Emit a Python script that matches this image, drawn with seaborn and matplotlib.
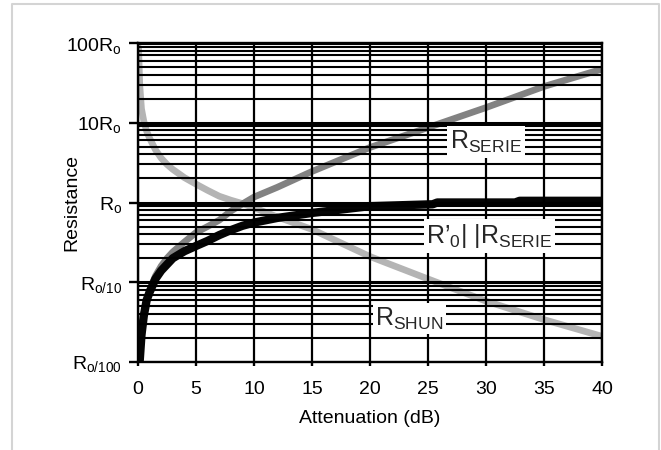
import numpy as np
import pandas as pd
import matplotlib.pyplot as plt
import seaborn as sns
from matplotlib.ticker import LogLocator, FixedLocator, FixedFormatter, NullFormatter
from matplotlib.lines import Line2D

# values: attenuation (dB) vs resistance in units of Ro
shunt_db = [0.05, 0.15, 0.3, 0.5, 0.75, 1, 1.5, 2, 2.5, 3, 4, 5, 6, 7, 8, 9, 10, 12, 15, 20, 25, 30, 35, 40]
r_shunt = [88, 30, 15, 10.5, 7.8, 6.4, 4.6, 3.6, 3.0, 2.6, 2.05, 1.7, 1.42, 1.2, 1.07, 0.97, 0.86, 0.66, 0.46, 0.21, 0.11, 0.058, 0.034, 0.021]

serie_db = [0.3, 0.5, 1, 1.5, 2, 2.5, 3, 4, 5, 6, 7, 8, 9, 10, 12, 15, 20, 25, 30, 35, 40]
r_serie = [0.02, 0.04, 0.08, 0.12, 0.16, 0.2, 0.24, 0.32, 0.42, 0.5, 0.6, 0.78, 0.96, 1.17, 1.55, 2.45, 4.9, 8.7, 15.5, 28.5, 47]

par_db = [0.15, 0.3, 0.5, 0.75, 1, 1.5, 2, 3, 4, 5, 6, 7, 8, 9, 10, 12, 15, 20, 25.4, 25.8, 32.5, 32.9, 40]
r_par = [0.0105, 0.022, 0.038, 0.06, 0.075, 0.11, 0.14, 0.2, 0.245, 0.285, 0.33, 0.39, 0.45, 0.51, 0.56, 0.64, 0.74, 0.9, 0.95, 1.0, 1.0, 1.05, 1.05]

ytick_vals = [0.01, 0.1, 1, 10, 100]
ytick_labels = ['R$_{o/100}$', 'R$_{o/10}$', 'R$_o$', '10R$_o$', '100R$_o$']
xtick_vals = [0, 5, 10, 15, 20, 25, 30, 35, 40]

sns.set_theme(style="white")
plt.rcParams['font.family'] = ['Liberation Sans', 'DejaVu Sans']
plt.rcParams['mathtext.fontset'] = 'custom'
plt.rcParams['mathtext.rm'] = 'Liberation Sans'
plt.rcParams['mathtext.it'] = 'Liberation Sans'
plt.rcParams['mathtext.bf'] = 'Liberation Sans:bold'
plt.rcParams['mathtext.default'] = 'regular'

fig = plt.figure(figsize=(6.61, 4.5), dpi=100)
ax = fig.add_axes([138 / 661, 1 - 362 / 450, 464 / 661, 319 / 450])

sns.lineplot(x=shunt_db, y=r_shunt, ax=ax, color="#b4b4b4", linewidth=4.8, estimator=None, sort=False)
sns.lineplot(x=serie_db, y=r_serie, ax=ax, color="#828282", linewidth=4.8, estimator=None, sort=False)
sns.lineplot(x=par_db, y=r_par, ax=ax, color="#050505", linewidth=6, estimator=None, sort=False)

ax.set_yscale("log")
ax.set_xlim(0, 40)
ax.set_ylim(0.01, 100)
ax.xaxis.set_major_locator(FixedLocator(xtick_vals))
ax.yaxis.set_major_locator(FixedLocator(ytick_vals))
ax.yaxis.set_major_formatter(FixedFormatter(ytick_labels))
ax.yaxis.set_minor_locator(LogLocator(base=10, subs=range(2, 10)))
ax.yaxis.set_minor_formatter(NullFormatter())

ax.set_axisbelow(False)
ax.grid(True, axis="x", color="black", linewidth=1.6)
ax.grid(True, axis="y", which="major", color="black", linewidth=2.2)
ax.grid(True, axis="y", which="minor", color="black", linewidth=1.5)

for s in ax.spines.values():
    s.set_color("black")
    s.set_linewidth(1.7)

ax.tick_params(axis="y", which="major", direction="out", length=6.5, width=1.7,
               left=True, labelsize=14, pad=5, colors="black")
ax.tick_params(axis="y", which="minor", length=0)
ax.tick_params(axis="x", direction="out", length=3, width=1.7, bottom=True,
               labelsize=14, pad=11, colors="black")

ax.set_xlabel("Attenuation (dB)", fontsize=14, color="black")
ax.set_ylabel("Resistance", fontsize=14, color="black")
ax.xaxis.set_label_coords(0.5, -0.15)
ax.yaxis.set_label_coords(-0.125, 0.5)

box = dict(facecolor="white", edgecolor="none", pad=2)
ax.text(30.0, 5.75, 'R$_{SERIE}$', fontsize=18, ha="center", va="center", bbox=box, zorder=5)
ax.text(30.3, 0.38, 'R\u2019$_0$| |R$_{SERIE}$', fontsize=18, ha="center", va="center", bbox=box, zorder=5)
ax.text(23.4, 0.035, 'R$_{SHUN}$', fontsize=18, ha="center", va="center", bbox=box, zorder=5)

# light frame around the whole figure (open at the bottom)
fig.add_artist(Line2D([12 / 661, 12 / 661, 659 / 661, 659 / 661], [-0.1, 1 - 4 / 450, 1 - 4 / 450, -0.1],
                      transform=fig.transFigure, color="#d4d4d4", linewidth=1.5))

fig.savefig("out.png", dpi=100)
